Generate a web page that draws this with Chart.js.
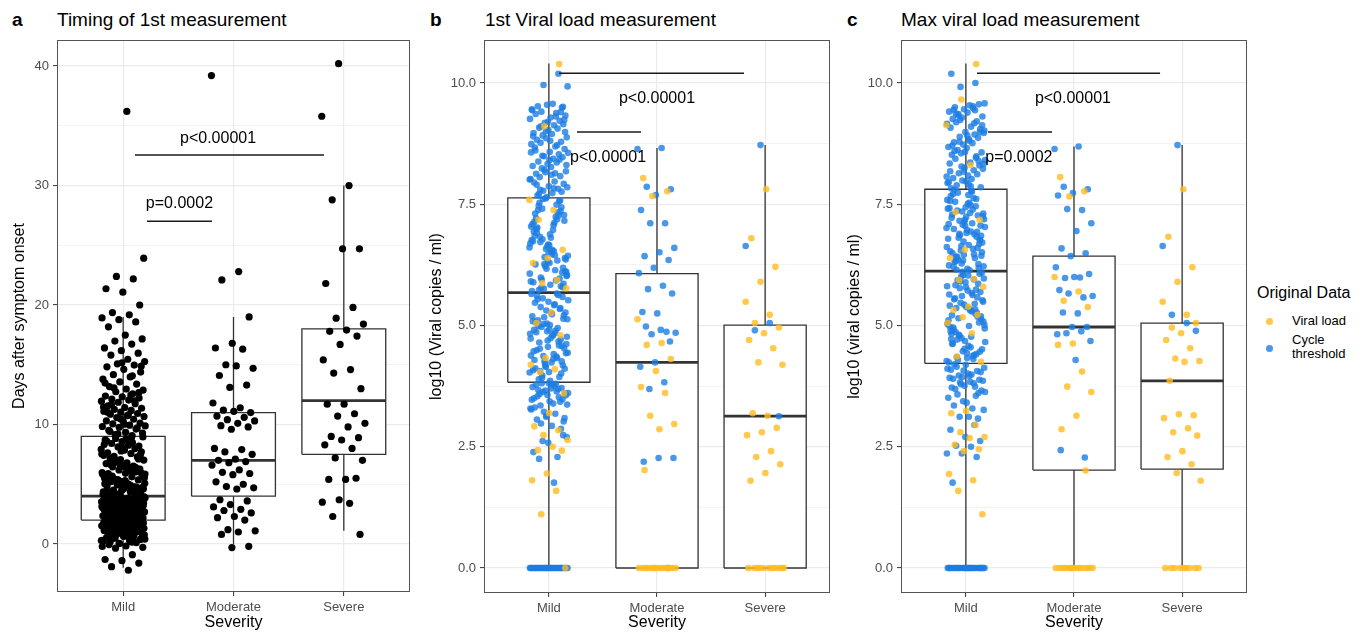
<!DOCTYPE html>
<html>
<head>
<meta charset="utf-8">
<title>Viral load by severity</title>
<script src="https://cdn.jsdelivr.net/npm/chart.js@4.4.1/dist/chart.umd.min.js"></script>
<style>
  html, body { margin: 0; padding: 0; background: #ffffff; }
  body { width: 1367px; height: 637px; position: relative; overflow: hidden;
         font-family: "Liberation Sans", Arial, Helvetica, sans-serif; color: #000; }
  .panel { position: absolute; top: 0; }
  .panel canvas { display: block; }
  .tag { position: absolute; top: 9px; font-size: 19px; line-height: 22px; font-weight: bold; white-space: nowrap; }
  .title { position: absolute; top: 9px; font-size: 19px; line-height: 22px; white-space: nowrap; }
  .legend-title { position: absolute; left: 1257px; top: 283px; font-size: 16px; line-height: 19px; white-space: nowrap; }
  .legend-label { position: absolute; left: 1292px; font-size: 13px; line-height: 14px; white-space: nowrap; }
  .legend-dot { position: absolute; width: 7px; height: 7px; border-radius: 50%; }
</style>
</head>
<body>

<div class="tag" style="left:12px">a</div>
<div class="title" style="left:57px">Timing of 1st measurement</div>
<div class="tag" style="left:430px">b</div>
<div class="title" style="left:485px">1st Viral load measurement</div>
<div class="tag" style="left:847px">c</div>
<div class="title" style="left:901px">Max viral load measurement</div>

<div class="panel" style="left:0px"><canvas id="chartA" width="415" height="637"></canvas></div>
<div class="panel" style="left:415px"><canvas id="chartB" width="420" height="637"></canvas></div>
<div class="panel" style="left:835px"><canvas id="chartC" width="417" height="637"></canvas></div>

<div class="legend-title">Original Data</div>
<div class="legend-dot" id="dotVl" style="left:1266px;top:318px"></div>
<div class="legend-label" style="top:314px">Viral load</div>
<div class="legend-dot" id="dotCt" style="left:1266px;top:345px"></div>
<div class="legend-label" style="top:333px">Cycle<br>threshold</div>

<script>
// ---------- categories and axis ticks ----------
const categories = ['Mild', 'Moderate', 'Severe'];
const yTicksDays = [0, 10, 20, 30, 40];
const yMinorDays = [5, 15, 25, 35];
const yTicksLog = [0, 2.5, 5, 7.5, 10];
const yMinorLog = [1.25, 3.75, 6.25, 8.75];

// ---------- panel a: days after symptom onset ----------
const mildDays = [
  -2.2, -1.9, -1.6, -1.4, -1.3, -0.9, -0.35, -0.28, -0.17, -0.05, 0.12, 0.03, 0.31, 0.22, 0.47, 0.38, 0.64, 0.55, 0.71, 0.83,
  0.77, 0.92, 0.68, 1.04, 0.97, 1.13, 1.08, 1.26, 1.19, 1.33, 1.21, 1.41, 1.37, 1.52, 1.46, 1.58, 1.63, 1.55, 1.72, 1.67,
  1.81, 1.76, 1.88, 1.93, 1.85, 1.97, 0.26, 0.59, 0.86, 1.11, 1.29, 1.49, 1.69, 1.91, 0.41, 0.73, 1.02, 1.35, 1.61, 1.83,
  0.15, 0.49, 0.8, 1.16, 1.44, 1.74, 0.06, -0.21, 0.35, 0.95, 1.23, 1.57, 1.99, 0.62, 0.88, 1.31, 1.66, 0.19, 1.05, 1.39,
  1.79, 0.52, 1.48, 0.44, 0.67, 1.09, 1.36, 1.71, 0.29, 0.84, 1.18, 1.53, 1.94,
  2.03, 2.11, 2.07, 2.18, 2.24, 2.15, 2.31, 2.27, 2.36, 2.42, 2.33, 2.49, 2.45, 2.56, 2.61, 2.53, 2.68, 2.64, 2.73, 2.79,
  2.71, 2.85, 2.82, 2.91, 2.96, 2.88, 3.02, 3.08, 2.99, 3.14, 3.11, 3.19, 3.25, 3.17, 3.31, 3.28, 3.37, 3.43, 3.34, 3.48,
  3.52, 3.46, 3.58, 3.63, 3.55, 3.69, 3.66, 3.74, 3.79, 3.71, 3.86, 3.83, 3.92, 3.97, 3.89, 2.21, 2.58, 2.94, 3.22, 3.57,
  3.81, 2.39, 2.76, 3.05, 3.41, 3.77, 2.13, 2.47, 2.86, 3.16, 3.49, 3.94, 2.29, 2.66, 3.0, 3.39, 3.72, 2.09, 2.52, 2.97,
  3.29, 3.61, 3.99, 2.81, 3.53, 2.19, 2.62, 3.07, 3.44, 3.87, 2.35, 2.74, 3.21, 3.67, 2.05,
  4.06, 4.23, 4.14, 4.38, 4.51, 4.33, 4.67, 4.82, 4.59, 4.94, 5.08, 4.87, 5.21, 5.36, 5.13, 5.47, 5.62, 5.41, 5.78, 5.91,
  5.69, 6.04, 6.19, 5.97, 6.32, 6.46, 6.27, 6.58, 6.73, 6.51, 6.86, 7.02, 6.79, 7.14, 7.29, 7.07, 7.42, 7.57, 7.34, 7.71,
  7.86, 7.63, 7.98, 8.12, 7.92, 8.27, 8.41, 8.19, 8.56, 8.71, 8.48, 8.83, 8.96, 8.77, 4.29, 4.76, 5.26, 5.83, 6.38, 6.92,
  7.47, 8.03, 8.62, 4.44, 5.02, 5.55, 6.11, 6.66, 7.21, 7.79, 8.33, 8.91, 4.18, 4.71, 5.31, 5.88, 6.41, 6.98, 7.53, 4.97,
  5.67, 6.24, 4.55, 5.16, 6.03, 4.09, 4.63, 5.11, 5.58, 6.08, 6.55, 4.36, 4.91, 5.44, 5.96, 6.47, 4.27, 4.79, 5.38, 5.85,
  6.17, 6.62, 7.11, 4.48, 5.04,
  9.07, 9.16, 9.28, 9.34, 9.51, 9.62, 9.77, 9.83, 9.94, 10.05, 10.12, 10.26, 10.31, 10.44, 10.58, 10.67, 10.73, 10.86, 10.92, 11.03,
  11.11, 11.18, 11.27, 11.36, 11.42, 11.57, 11.74, 11.86, 11.95, 12.04, 12.13, 12.21, 12.32, 12.38, 12.57, 12.74, 12.88, 12.96, 13.17, 13.38,
  13.56, 13.79, 13.98, 14.17, 14.39, 14.62, 14.83, 14.97, 15.08, 15.27, 15.46, 15.81, 15.97, 16.18, 16.41, 16.73, 16.98, 17.16, 17.48, 18.17,
  18.58, 18.77, 18.92, 19.18, 19.37, 20.0, 21.07, 21.36, 22.18, 22.39, 23.92, 36.2, 9.42, 9.71, 10.47, 11.46, 12.47, 13.06, 14.88, 10.02,
  11.02, 11.97, 9.21, 9.88, 10.81, 11.68, 12.66, 15.16, 13.47, 14.08
];
const moderateDays = [
  39.2, 22.8, 22.1, 19.0, 16.8, 16.4, 16.3, 15.0, 14.7, 14.9, 14.1, 13.3, 13.1, 11.8, 11.4, 11.2, 11.0, 11.1, 10.7, 10.6,
  10.4, 10.3, 10.1, 9.9, 9.8, 9.6, 8.0, 7.9, 7.7, 7.5, 7.1, 7.0, 6.9, 6.8, 6.6, 6.2, 6.0, 5.9, 5.8, 5.2,
  5.0, 4.8, 4.7, 4.6, 3.7, 3.6, 3.3, 3.1, 2.9, 2.8, 2.6, 2.3, 2.2, 2.0, 1.2, 1.1, 1.0, 0.8, -0.2, -0.3
];
const severeDays = [
  40.2, 35.8, 30.0, 28.8, 24.7, 24.7, 21.8, 19.8, 18.9, 18.4, 17.9, 17.8, 17.4, 16.7, 15.4, 14.6, 14.3, 13.0, 11.7, 11.7,
  10.9, 10.7, 10.1, 9.8, 9.0, 8.9, 8.7, 8.3, 8.0, 7.2, 7.0, 5.4, 5.4, 5.5, 3.7, 3.5, 3.4, 2.3, 0.8
];
const lowerA = [-2, 0, 1.1];
const q1A = [2, 4, 7.5];
const medianA = [4, 7, 12];
const q3A = [9, 11, 18];
const upperA = [19, 19, 30];
const bracketsA = [[1.107, 2.82, 32.55], [1.216, 1.805, 27.0]];
const pTextA = [['p<0.00001', 1.86, 33.9], ['p=0.0002', 1.51, 28.45]];

// ---------- panel b: first viral load, log10 copies / ml ----------
const mildFirstCt = [
  0, 0, 0, 0, 0, 0, 0, 0, 0, 0, 0, 0, 0, 0, 0, 0, 0, 0, 0, 0, 0, 0, 0, 0, 0, 0, 0, 0, 0, 0, 0, 0, 0, 0,
  1.76, 2.25, 2.74, 2.58, 2.39, 2.29, 2.62, 2.7, 2.93, 3.06, 2.87, 3.12, 3.27, 3.18, 3.35, 3.09, 3.44, 3.31, 3.52, 3.22,
  3.61, 3.39, 3.67, 3.48, 3.57, 3.73, 3.64, 3.81, 3.56, 3.7, 3.78, 3.43, 3.66, 3.29, 3.75, 3.59, 3.02, 3.81, 3.5, 3.69,
  3.63, 3.37, 3.79, 3.54, 3.71, 3.14, 3.47, 3.8, 2.98, 3.6,
  3.86, 4.12, 3.94, 4.27, 4.03, 4.41, 3.89, 4.18, 4.56, 4.08, 4.33, 3.97, 4.62, 4.24, 4.49, 4.71, 4.15, 4.38, 4.84, 4.06,
  4.53, 4.92, 4.29, 4.67, 5.03, 4.44, 4.79, 5.11, 4.58, 4.88, 5.19, 4.36, 4.97, 5.27, 4.74, 5.06, 5.34, 4.21, 4.83, 5.42,
  4.65, 5.14, 5.49, 4.47, 4.95, 5.56, 4.77, 5.23, 5.61, 4.01, 5.31, 5.65, 4.89, 5.38, 4.11, 5.01, 5.47, 4.59, 5.17, 5.52,
  4.31, 4.99, 5.59, 4.69, 5.09, 5.66, 3.92, 4.43, 5.26, 4.86, 5.36, 4.16, 4.73, 5.44, 4.52, 5.21, 4.04, 4.91, 5.63, 4.37,
  5.13, 4.81, 5.54, 4.26, 5.04,
  5.71, 5.93, 5.78, 6.12, 5.84, 6.26, 5.97, 6.41, 6.07, 6.53, 5.73, 6.19, 6.67, 5.89, 6.34, 6.78, 6.02, 6.47, 6.91, 5.81,
  6.58, 7.04, 6.14, 6.72, 7.16, 6.29, 6.85, 7.27, 5.76, 6.44, 6.97, 7.38, 6.09, 6.63, 7.09, 7.49, 5.95, 6.36, 6.81, 7.21,
  7.58, 6.22, 6.69, 7.12, 7.53, 5.86, 6.49, 6.94, 7.33, 7.61, 6.04, 6.56, 7.02, 7.44, 6.17, 6.76, 7.24, 5.99, 6.39, 6.88,
  7.31, 7.56, 6.27, 6.61, 7.07, 7.47, 5.79, 6.32, 6.74, 7.19, 7.41, 6.11, 6.54, 6.99, 7.36, 7.62, 5.91, 6.45, 6.83, 7.28,
  6.66, 7.14,
  10.19, 9.96, 9.93, 9.57, 9.52, 9.49, 9.55, 9.44, 9.38, 9.41, 9.33, 9.29, 9.36, 9.22, 9.18, 9.26, 9.13, 9.08, 9.15, 9.03,
  8.97, 9.06, 8.92, 8.88, 8.95, 8.83, 8.79, 8.86, 8.74, 8.69, 8.77, 8.64, 8.58, 8.67, 8.53, 8.49, 8.56, 8.44, 8.38, 8.47,
  8.33, 8.29, 8.36, 8.24, 8.18, 8.27, 8.13, 8.08, 8.16, 8.02, 7.97, 8.06, 7.92, 7.87, 7.95, 7.82, 7.78, 7.85, 7.73, 7.68,
  7.76, 7.65, 9.46, 9.31, 9.11, 8.99, 8.81, 8.61, 8.42, 8.21, 8.01, 7.83, 7.71, 9.51, 9.2, 8.9, 8.72, 8.5, 8.31, 8.11,
  7.9, 9.4, 9.0, 8.57, 8.14, 7.8, 9.24, 8.41
];
const mildFirstVl = [
  10.39, 9.11, 7.59, 7.38, 7.18, 6.56, 6.39, 6.29, 5.94, 5.87, 5.77, 5.26, 5.05, 4.8, 4.33, 4.19, 4.1, 4.04, 3.6, 3.19,
  2.92, 2.84, 2.74, 2.64, 2.5, 2.43, 2.42, 1.95, 1.81, 1.59, 1.11, 0
];
const moderateFirstCt = [
  8.64, 8.66, 7.86, 7.81, 7.69, 7.38, 7.11, 7.11, 6.6, 6.51, 6.43, 6.35, 6.19, 6.08, 5.82, 5.75, 5.66, 5.25, 5.28, 4.87,
  4.82, 4.85, 4.91, 4.98, 4.67, 4.24, 4.15, 3.83, 3.69, 2.27, 2.27, 2.19, 0
];
const moderateFirstVl = [
  8.04, 7.77, 7.67, 5.13, 4.64, 4.6, 4.31, 4.06, 3.73, 3.61, 3.14, 2.97, 2.86, 2.02,
  0, 0, 0, 0, 0, 0, 0, 0, 0, 0, 0, 0, 0, 0, 0
];
const severeFirstCt = [8.72, 6.64, 5.05, 4.9, 3.13];
const severeFirstVl = [
  7.81, 6.8, 6.21, 5.9, 5.49, 5.22, 5.05, 4.96, 4.84, 4.7, 4.53, 4.24, 4.19, 3.14, 3.19, 2.89, 2.8, 2.74, 2.41, 2.29,
  2.14, 1.96, 1.8, 0, 0, 0, 0, 0, 0, 0, 0, 0, 0, 0
];
const lowerB = [0, 0, 0];
const q1B = [3.83, 0, 0];
const medianB = [5.68, 4.24, 3.13];
const q3B = [7.63, 6.07, 5.01];
const upperB = [10.4, 8.66, 8.72];
const bracketsB = [[1.094, 2.805, 10.2], [1.26, 1.852, 8.99]];
const pTextB = [['p<0.00001', 2.0, 9.67], ['p<0.00001', 1.547, 8.47]];

// ---------- panel c: maximum viral load, log10 copies / ml ----------
const mildMaxCt = [
  0, 0, 0, 0, 0, 0, 0, 0, 0, 0, 0, 0, 0, 0, 0, 0, 0, 0, 0, 0, 0, 0, 0, 0, 0, 0, 0, 0, 0, 0,
  1.76, 2.29, 2.36, 2.36, 2.5, 2.52, 2.62, 2.7, 2.85, 2.95, 3.12, 3.26, 3.12, 3.35, 3.08, 3.44, 3.51, 3.29, 3.58, 3.66,
  3.41, 3.72, 3.55, 3.79, 3.63, 3.84, 3.69, 3.88, 3.76, 3.92, 3.81, 3.97, 3.86, 4.01, 3.9, 4.06, 3.94, 4.11, 3.99, 4.15,
  4.04, 4.19, 4.09, 3.74, 3.83, 4.13, 3.96, 4.2, 3.61, 4.07,
  4.24, 4.37, 4.29, 4.51, 4.33, 4.62, 4.41, 4.74, 4.27, 4.55, 4.86, 4.46, 4.68, 4.97, 4.39, 4.79, 5.08, 4.58, 4.91, 5.18,
  4.47, 5.02, 5.29, 4.71, 5.13, 5.38, 4.83, 5.24, 5.47, 4.94, 5.34, 5.56, 5.06, 5.43, 5.64, 4.31, 5.15, 5.52, 5.72, 4.63,
  5.26, 5.61, 5.81, 4.77, 5.36, 5.69, 5.89, 4.88, 5.45, 5.77, 5.97, 4.99, 5.54, 5.86, 6.04, 5.11, 5.63, 5.93, 6.09, 4.43,
  5.21, 5.74, 6.01, 4.66, 5.31, 5.83, 6.07, 4.52, 5.41, 5.95, 4.81, 5.49, 6.03, 4.96, 5.58, 6.11, 5.04, 5.67, 4.35, 5.19,
  5.79, 4.72, 5.33, 5.91, 5.01,
  6.14, 6.31, 6.19, 6.46, 6.24, 6.58, 6.36, 6.71, 6.17, 6.49, 6.83, 6.28, 6.62, 6.94, 6.41, 6.76, 7.05, 6.53, 6.88, 7.16,
  6.22, 6.66, 6.99, 7.27, 6.34, 6.79, 7.11, 7.37, 6.44, 6.91, 7.22, 7.46, 6.55, 7.03, 7.32, 7.55, 6.68, 7.14, 7.42, 7.63,
  6.81, 7.25, 7.51, 7.71, 6.93, 7.35, 7.59, 7.78, 6.15, 7.06, 7.44, 7.67, 6.39, 6.86, 7.19, 7.53, 7.8, 6.27, 6.73, 7.09,
  7.39, 7.74, 6.51, 6.97, 7.29, 7.61, 6.64, 7.01, 7.48, 6.33, 6.77, 7.18, 7.57, 6.47, 6.89, 7.31, 7.69, 6.21, 6.6, 7.08,
  7.41, 7.76, 6.42, 6.85, 7.24,
  10.19, 10.0, 9.92, 9.58, 9.54, 9.5, 9.56, 9.46, 9.41, 9.48, 9.36, 9.31, 9.39, 9.26, 9.21, 9.29, 9.16, 9.1, 9.19, 9.05,
  8.99, 9.08, 8.94, 8.89, 8.97, 8.84, 8.78, 8.87, 8.73, 8.68, 8.76, 8.62, 8.57, 8.66, 8.52, 8.46, 8.55, 8.41, 8.36, 8.44,
  8.3, 8.25, 8.34, 8.2, 8.14, 8.23, 8.09, 8.04, 8.12, 7.99, 7.94, 8.02, 7.89, 7.85, 7.97, 7.83, 9.44, 9.24, 9.02, 8.81,
  8.6, 8.39, 8.17, 7.96, 9.52, 9.33, 9.13, 8.92, 8.71, 8.49, 8.28, 8.07, 7.87, 9.37, 8.99, 8.58, 8.18, 9.17, 8.79, 8.33,
  7.91, 9.45
];
const mildMaxVl = [
  10.39, 9.66, 9.13, 8.31, 7.34, 7.18, 6.56, 6.39, 5.96, 5.94, 5.8, 5.39, 5.32, 5.22, 5.17, 5.05, 4.84, 4.36, 4.25, 3.24,
  3.19, 2.95, 2.8, 2.7, 2.68, 2.54, 2.45, 2.41, 1.94, 1.81, 1.59, 1.11
];
const moderateMaxCt = [
  8.64, 8.69, 7.86, 7.81, 7.73, 7.68, 7.38, 7.4, 7.11, 6.95, 6.59, 6.49, 6.43, 6.2, 5.99, 5.98, 6.06, 6.0, 5.73, 5.58,
  5.66, 5.61, 5.25, 5.27, 4.97, 4.97, 4.82, 4.88, 4.84, 4.68, 4.29, 2.43, 2.28
];
const moderateMaxVl = [
  8.06, 7.77, 7.66, 6.0, 5.7, 5.51, 5.38, 4.63, 4.6, 4.05, 3.74, 3.63, 3.14, 2.86, 2.01,
  0, 0, 0, 0, 0, 0, 0, 0, 0, 0, 0, 0, 0, 0
];
const severeMaxCt = [8.72, 6.64, 5.05, 5.22, 4.89];
const severeMaxVl = [
  7.81, 6.83, 6.2, 5.9, 5.49, 5.22, 4.96, 5.05, 4.84, 4.7, 4.53, 4.32, 4.27, 4.25, 3.86, 3.15, 3.17, 3.09, 2.88, 2.8,
  2.73, 2.41, 2.29, 2.14, 1.96, 1.8, 0, 0, 0, 0, 0, 0, 0, 0, 0
];
const lowerC = [0, 0, 0];
const q1C = [4.22, 2.02, 2.04];
const medianC = [6.12, 4.97, 3.86];
const q3C = [7.81, 6.43, 5.05];
const upperC = [10.4, 8.69, 8.72];
const bracketsC = [[1.103, 2.796, 10.2], [1.205, 1.797, 8.99]];
const pTextC = [['p<0.00001', 1.99, 9.67], ['p=0.0002', 1.49, 8.47]];

// ---------- styling ----------
const FONT = '"Liberation Sans", Arial, Helvetica, sans-serif';
const GRID = '#EBEBEB';
const INK = '#333333';
const BLACK_PT = '#000000';
const CT_BLUE = 'rgba(28, 125, 228, 0.8)';
const VL_YELLOW = 'rgba(255, 188, 30, 0.8)';
const BOX_W = 0.76;

Chart.defaults.font.family = FONT;
Chart.defaults.color = '#4D4D4D';

document.getElementById('dotVl').style.background = VL_YELLOW;
document.getElementById('dotCt').style.background = CT_BLUE;

// Deterministic horizontal spread (golden-ratio sequence) so overlapping points
// stay visible inside each category column.
function spread(i, seed) {
  const f = ((i + 1) * 0.6180339887 + seed * 0.3819660113) % 1;
  return f * 2 - 1;
}
function cloud(values, column, halfWidth, seed) {
  return values.map((v, i) => ({ x: column + spread(i, seed) * halfWidth, y: v }));
}
function pointSet(values, column, halfWidth, seed, color, radius, order) {
  return {
    type: 'scatter', data: cloud(values, column, halfWidth, seed),
    pointRadius: radius, pointHoverRadius: radius, pointBackgroundColor: color,
    pointBorderWidth: 0, pointBorderColor: 'rgba(0,0,0,0)', order: order
  };
}
function lineSet(points, width, order, color, extra) {
  return Object.assign({
    type: 'line', data: points, showLine: true, borderColor: color || INK, borderWidth: width,
    pointRadius: 0, pointHoverRadius: 0, fill: false, tension: 0, order: order,
    borderCapStyle: 'butt', borderJoinStyle: 'miter'
  }, extra || {});
}
function boxSets(lower, q1, median, q3, upper) {
  const out = [];
  const h = BOX_W / 2;
  categories.forEach((name, i) => {
    const c = i + 1;
    out.push(lineSet([
      { x: c - h, y: q1[i] }, { x: c + h, y: q1[i] }, { x: c + h, y: q3[i] },
      { x: c - h, y: q3[i] }, { x: c - h, y: q1[i] }
    ], 1.3, 6, INK, { fill: 'shape', backgroundColor: '#FFFFFF' }));
    out.push(lineSet([{ x: c, y: q3[i] }, { x: c, y: upper[i] }], 1.3, 5));
    if (lower[i] < q1[i]) out.push(lineSet([{ x: c, y: lower[i] }, { x: c, y: q1[i] }], 1.3, 5));
    out.push(lineSet([{ x: c - h, y: median[i] }, { x: c + h, y: median[i] }], 2.8, 4));
  });
  return out;
}
function bracketSets(brackets) {
  return brackets.map(b => lineSet([{ x: b[0], y: b[2] }, { x: b[1], y: b[2] }], 1.5, 0, '#1A1A1A'));
}

function yScale(major, minor, min, max, width, fmt, title, titlePad) {
  const all = major.map(v => ({ value: v, minor: false }))
    .concat(minor.map(v => ({ value: v, minor: true })))
    .sort((a, b) => a.value - b.value);
  return {
    type: 'linear', min: min, max: max,
    afterBuildTicks: axis => { axis.ticks = all.map(t => ({ value: t.value, minor: t.minor })); },
    afterFit: s => { s.width = width; },
    ticks: {
      autoSkip: false, maxRotation: 0, padding: 4, color: '#4D4D4D', font: { size: 13 },
      callback: (v, i, ticks) => (ticks[i] && ticks[i].minor) ? '' : fmt(v)
    },
    grid: {
      color: GRID, drawTicks: true, tickLength: 4, tickWidth: 1,
      lineWidth: ctx => (ctx.tick && ctx.tick.minor) ? 0.6 : 1.2,
      tickColor: ctx => (ctx.tick && ctx.tick.minor) ? 'rgba(0,0,0,0)' : INK
    },
    border: { display: false },
    title: { display: true, text: title, color: '#000000', font: { size: 16 }, padding: { top: titlePad, bottom: 0 } }
  };
}
function xScale(height) {
  return {
    type: 'linear', min: 0.4, max: 3.6,
    afterBuildTicks: axis => { axis.ticks = categories.map((n, i) => ({ value: i + 1 })); },
    afterFit: s => { s.height = height; },
    ticks: {
      autoSkip: false, maxRotation: 0, minRotation: 0, padding: 4, color: '#4D4D4D', font: { size: 13 },
      callback: v => categories[Math.round(v) - 1]
    },
    grid: { color: GRID, lineWidth: 1.2, drawTicks: true, tickLength: 4, tickWidth: 1, tickColor: INK },
    border: { display: false },
    title: { display: true, text: 'Severity', color: '#000000', font: { size: 16 }, padding: { top: 0, bottom: 4.4 } }
  };
}

// panel outline drawn on top of the data, like a bordered panel
const panelFrame = {
  id: 'panelFrame',
  afterDatasetsDraw(chart) {
    const a = chart.chartArea, ctx = chart.ctx;
    ctx.save();
    ctx.strokeStyle = '#555555';
    ctx.lineWidth = 1;
    ctx.strokeRect(a.left + 0.5, a.top + 0.5, a.right - a.left - 1, a.bottom - a.top - 1);
    ctx.restore();
  }
};
// p-value annotations positioned in data coordinates
function pValueLabels(items) {
  return {
    id: 'pValueLabels',
    afterDatasetsDraw(chart) {
      const ctx = chart.ctx, xs = chart.scales.x, ys = chart.scales.y;
      ctx.save();
      ctx.fillStyle = '#000000';
      ctx.font = '16px ' + FONT;
      ctx.textAlign = 'center';
      ctx.textBaseline = 'middle';
      items.forEach(t => ctx.fillText(t[0], xs.getPixelForValue(t[1]), ys.getPixelForValue(t[2])));
      ctx.restore();
    }
  };
}

function makePanel(canvasId, datasets, yOpts, xHeight, padRight, texts) {
  new Chart(document.getElementById(canvasId), {
    type: 'scatter',
    data: { datasets: datasets },
    options: {
      responsive: false, animation: false, events: [],
      layout: { padding: { top: 40, right: padRight, bottom: 0, left: 0 } },
      plugins: { legend: { display: false }, tooltip: { enabled: false } },
      scales: { x: xScale(xHeight), y: yOpts }
    },
    plugins: [panelFrame, pValueLabels(texts)]
  });
}

// ---------- panel a ----------
makePanel('chartA',
  boxSets(lowerA, q1A, medianA, q3A, upperA).concat([
    pointSet(mildDays, 1, 0.2, 0, BLACK_PT, 3.6, 2),
    pointSet(moderateDays, 2, 0.2, 1, BLACK_PT, 3.6, 2),
    pointSet(severeDays, 3, 0.2, 2, BLACK_PT, 3.6, 2)
  ]).concat(bracketSets(bracketsA)),
  yScale(yTicksDays, yMinorDays, -4.02, 42.18, 57, v => String(v), 'Days after symptom onset', 10.4),
  45, 5, pTextA);

// ---------- panel b ----------
makePanel('chartB',
  boxSets(lowerB, q1B, medianB, q3B, upperB).concat([
    pointSet(mildFirstCt, 1, 0.18, 0, CT_BLUE, 3.3, 2),
    pointSet(moderateFirstCt, 2, 0.18, 1, CT_BLUE, 3.3, 2),
    pointSet(severeFirstCt, 3, 0.18, 2, CT_BLUE, 3.3, 2),
    pointSet(mildFirstVl, 1, 0.18, 3, VL_YELLOW, 3.3, 1),
    pointSet(moderateFirstVl, 2, 0.18, 4, VL_YELLOW, 3.3, 1),
    pointSet(severeFirstVl, 3, 0.18, 5, VL_YELLOW, 3.3, 1)
  ]).concat(bracketSets(bracketsB)),
  yScale(yTicksLog, yMinorLog, -0.515, 10.887, 69, v => v.toFixed(1), 'log10 (Viral copies / ml)', 12.4),
  44, 5, pTextB);

// ---------- panel c ----------
makePanel('chartC',
  boxSets(lowerC, q1C, medianC, q3C, upperC).concat([
    pointSet(mildMaxCt, 1, 0.18, 0, CT_BLUE, 3.3, 2),
    pointSet(moderateMaxCt, 2, 0.18, 1, CT_BLUE, 3.3, 2),
    pointSet(severeMaxCt, 3, 0.18, 2, CT_BLUE, 3.3, 2),
    pointSet(mildMaxVl, 1, 0.18, 3, VL_YELLOW, 3.3, 1),
    pointSet(moderateMaxVl, 2, 0.18, 4, VL_YELLOW, 3.3, 1),
    pointSet(severeMaxVl, 3, 0.18, 5, VL_YELLOW, 3.3, 1)
  ]).concat(bracketSets(bracketsC)),
  yScale(yTicksLog, yMinorLog, -0.515, 10.887, 66, v => v.toFixed(1), 'log10 (viral copies / ml)', 10.4),
  44, 5, pTextC);
</script>
</body>
</html>
